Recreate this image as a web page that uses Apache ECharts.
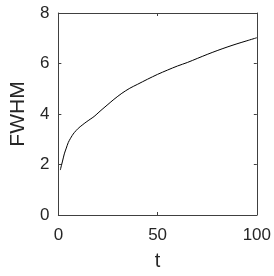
<!DOCTYPE html>
<html>
<head>
<meta charset="utf-8">
<script src="https://cdn.jsdelivr.net/npm/echarts@6/dist/echarts.min.js"></script>
<style>html,body{margin:0;padding:0;background:#fff;}#c{width:274px;height:276px;}</style>
</head>
<body>
<div id="c"></div>
<script>
var tValues = [1, 1.5, 2, 3, 4, 5, 6, 7, 8, 10, 12, 14, 16, 18, 20, 22, 25, 28, 32, 36, 40, 45, 50, 55, 60, 65, 70, 75, 80, 85, 90, 95, 100];
var fwhmValues = [1.78, 1.95, 2.1, 2.42, 2.65, 2.87, 3.02, 3.15, 3.26, 3.43, 3.56, 3.68, 3.79, 3.90, 4.04, 4.18, 4.38, 4.58, 4.82, 5.02, 5.18, 5.38, 5.57, 5.74, 5.90, 6.04, 6.20, 6.36, 6.51, 6.65, 6.78, 6.90, 7.02];
var xTicks = [0, 50, 100];
var yTicks = [0, 2, 4, 6, 8];
var xName = 't';
var yName = 'FWHM';

var axisColor = '#404040';
var textColor = '#262626';
var font = 'Liberation Sans, Arial, sans-serif';

var chart = echarts.init(document.getElementById('c'), null, {renderer: 'canvas'});
var data = tValues.map(function (t, i) { return [t, fwhmValues[i]]; });

function xAx(pos, show) {
  return {
    type: 'value', position: pos, min: xTicks[0], max: xTicks[xTicks.length - 1], interval: 50,
    name: show ? xName : '', nameLocation: 'middle', nameGap: 36,
    nameTextStyle: {fontSize: 20, color: textColor, fontFamily: font},
    axisLine: {show: true, onZero: false, lineStyle: {color: axisColor, width: 1}},
    axisTick: {show: true, inside: true, length: 3, lineStyle: {color: axisColor}},
    axisLabel: {show: show, fontSize: 17, color: textColor, fontFamily: font, margin: 12},
    splitLine: {show: false}
  };
}
function yAx(pos, show) {
  return {
    type: 'value', position: pos, min: yTicks[0], max: yTicks[yTicks.length - 1], interval: 2,
    name: show ? yName : '', nameLocation: 'middle', nameGap: 24,
    nameTextStyle: {fontSize: 21, color: textColor, fontFamily: font},
    axisLine: {show: true, onZero: false, lineStyle: {color: axisColor, width: 1}},
    axisTick: {show: true, inside: true, length: 3, lineStyle: {color: axisColor}},
    axisLabel: {show: show, fontSize: 17, color: textColor, fontFamily: font, margin: 9},
    splitLine: {show: false}
  };
}

chart.setOption({
  animation: false,
  grid: {left: 48, top: 13, right: 16, bottom: 59, containLabel: false},
  xAxis: [xAx('bottom', true), xAx('top', false)],
  yAxis: [yAx('left', true), yAx('right', false)],
  series: [{
    type: 'line', data: data, xAxisIndex: 0, yAxisIndex: 0,
    showSymbol: false, smooth: 0.3,
    lineStyle: {color: '#000', width: 1}
  }]
});
</script>
</body>
</html>
